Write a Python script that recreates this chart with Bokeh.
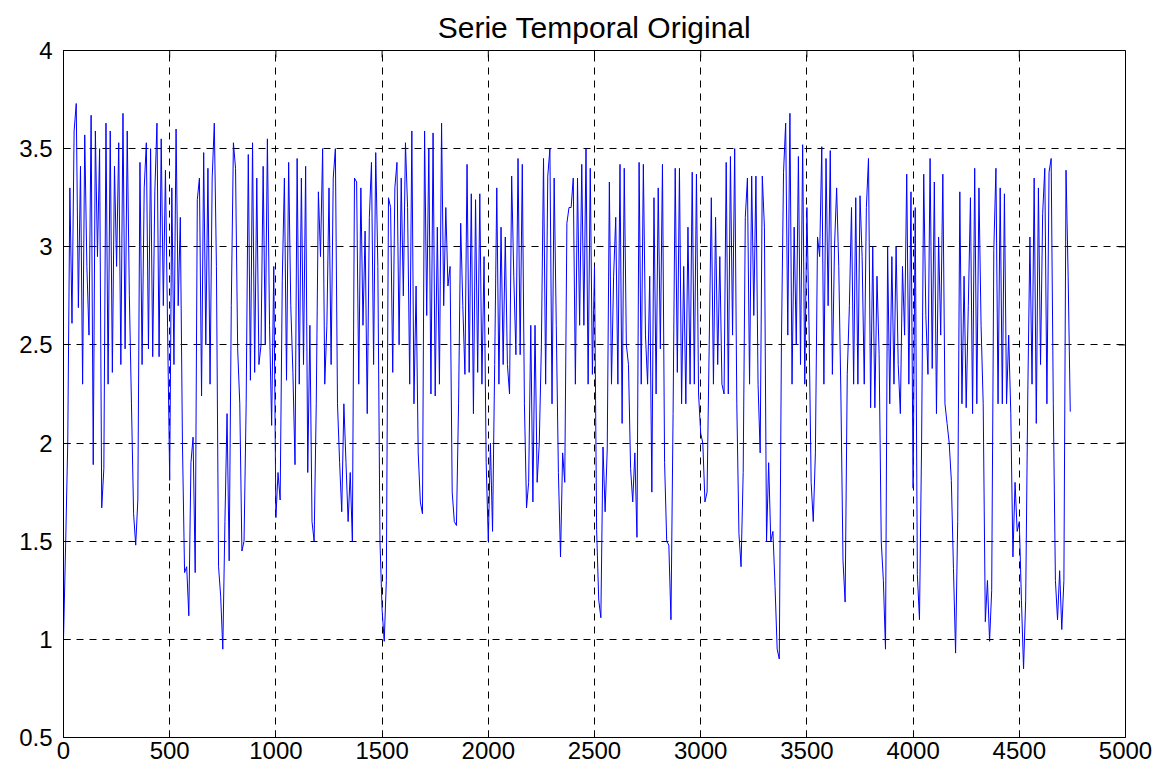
import numpy as np
from bokeh.plotting import figure
from bokeh.models import LinearAxis, FixedTicker, CustomJSTickFormatter, Range1d, Grid
from bokeh.embed import file_html
from bokeh.resources import INLINE

title_text = "Serie Temporal Original"
x_ticks = [0, 500, 1000, 1500, 2000, 2500, 3000, 3500, 4000, 4500, 5000]
y_ticks = [0.5, 1, 1.5, 2, 2.5, 3, 3.5, 4]
sample_step = 10  # time steps between the values

block_0000 = [1.0, 1.48, 2.0, 3.3, 2.61, 3.59, 3.73, 2.69, 3.41, 2.3, 3.57, 2.9, 2.55, 3.67, 1.89, 3.59, 2.95, 3.5, 1.67, 1.87,
              3.63, 2.3, 3.59, 2.36, 3.41, 2.9, 3.53, 2.4, 3.68, 2.48, 3.59, 2.75, 2.2, 1.64, 1.48, 1.71, 3.43, 2.4, 3.3, 3.53]
block_0400 = [2.48, 3.5, 2.44, 3.28, 3.63, 2.44, 3.55, 2.7, 3.39, 2.59, 1.81, 3.3, 2.4, 3.6, 2.7, 3.15, 2.0, 1.34, 1.37, 1.12,
              1.9, 2.03, 1.34, 3.24, 3.35, 2.24, 3.48, 2.5, 3.4, 2.3, 3.35, 3.63, 2.9, 1.37, 1.22, 0.95, 1.6, 2.15, 1.4, 2.7]
block_0800 = [3.53, 3.4, 2.48, 2.2, 1.45, 1.5, 2.2, 3.47, 2.32, 3.53, 2.36, 3.35, 2.4, 2.5, 3.41, 2.5, 3.55, 2.6, 2.09, 2.9,
              1.62, 1.85, 1.71, 2.83, 3.35, 2.32, 3.43, 2.7, 2.36, 1.89, 3.45, 2.3, 3.35, 2.4, 3.41, 1.85, 2.6, 1.6, 1.5, 2.2]
block_1200 = [3.28, 2.95, 3.5, 2.3, 2.6, 3.3, 2.4, 3.35, 3.5, 2.2, 1.9, 1.65, 2.2, 1.9, 1.6, 1.85, 1.5, 3.35, 3.33, 2.3,
              3.3, 2.6, 3.08, 2.15, 3.15, 3.43, 2.4, 3.48, 2.9, 1.5, 1.15, 0.99, 1.3, 3.25, 3.2, 2.36, 3.3, 3.43, 2.5, 3.35]
block_1600 = [2.75, 3.53, 3.2, 2.3, 3.59, 2.2, 2.8, 1.95, 1.7, 1.64, 3.59, 2.65, 3.5, 2.25, 3.58, 2.24, 3.1, 2.3, 3.63, 2.7,
              3.2, 2.8, 2.9, 1.75, 1.6, 1.58, 2.2, 3.12, 2.7, 2.35, 3.42, 2.36, 3.27, 2.15, 3.24, 2.36, 3.27, 2.3, 2.95, 1.9]
block_2000 = [1.5, 2.0, 1.55, 2.4, 3.3, 2.3, 3.1, 2.4, 3.05, 2.4, 2.25, 3.36, 2.85, 2.45, 3.45, 2.45, 3.42, 2.2, 1.67, 1.8,
              2.6, 1.7, 2.6, 1.8, 2.0, 2.5, 3.45, 2.3, 3.36, 3.5, 2.2, 3.35, 2.6, 1.85, 1.42, 1.95, 1.8, 3.12, 3.2, 3.2]
block_2400 = [3.35, 2.3, 3.35, 2.6, 3.42, 2.6, 3.5, 2.3, 3.4, 2.35, 2.9, 1.56, 1.2, 1.11, 1.98, 1.65, 1.97, 3.33, 2.3, 2.85,
              3.15, 2.3, 3.42, 2.1, 3.4, 2.5, 2.4, 1.87, 1.7, 1.95, 1.52, 3.43, 2.3, 3.42, 2.55, 2.3, 2.85, 1.75, 3.25, 2.25]
block_2800 = [3.3, 2.48, 3.42, 1.9, 1.5, 1.48, 1.1, 2.15, 3.4, 2.36, 3.4, 2.2, 2.9, 2.2, 3.1, 2.3, 3.38, 2.3, 3.37, 2.25,
              2.05, 2.0, 1.7, 1.75, 2.5, 3.25, 2.3, 3.15, 2.4, 2.95, 2.3, 2.25, 3.43, 2.25, 3.46, 2.55, 3.5, 2.2, 1.54, 1.37]
block_3200 = [1.85, 3.15, 3.35, 2.3, 3.36, 2.65, 3.36, 2.3, 1.95, 3.36, 3.1, 1.5, 1.9, 1.5, 1.55, 1.27, 0.95, 0.9, 2.5, 3.38,
              3.63, 2.55, 3.68, 2.3, 3.1, 2.5, 3.46, 2.4, 3.52, 2.3, 3.2, 2.6, 1.8, 1.6, 1.95, 3.05, 2.95]
block_3570 = [3.51, 2.3, 3.45, 2.7, 3.49, 2.35, 3.0, 3.3, 2.9, 2.25, 1.4, 1.19, 2.35, 2.7, 3.2, 2.3, 3.25, 2.3, 3.26, 2.95,
              2.3, 3.2, 3.45, 2.18, 3.0, 2.18, 2.85, 2.45, 1.5, 1.3, 0.95, 3.0, 2.2, 2.95, 2.3, 3.0, 2.4, 2.15, 2.9]
block_3960 = [2.55, 3.37, 2.3, 3.28, 1.77, 3.2, 1.33, 1.1, 2.0, 3.37, 2.65, 2.35, 3.45, 2.38, 3.33, 2.15, 3.05, 2.55, 3.37, 2.2,
              2.1, 2.0, 1.81, 1.36, 0.93, 1.6, 3.28, 2.2, 2.85, 2.18, 2.7, 3.25, 2.15, 3.4, 2.2, 3.3, 2.6, 2.2, 1.09, 1.3]
block_4360 = [0.99, 1.25, 2.98, 3.4, 2.2, 3.3, 2.2, 3.27, 2.2, 2.55, 2.15, 1.42, 1.8, 1.55, 1.6, 1.2, 0.85, 1.2, 2.25, 3.05,
              2.3, 3.35, 2.1, 3.3, 2.4, 3.17, 3.4, 2.2, 3.38, 3.45, 2.2, 1.3, 1.1, 1.35, 1.05, 1.3, 3.39, 2.85, 2.16]

series = (block_0000 + block_0400 + block_0800 + block_1200 + block_1600 + block_2000 +
          block_2400 + block_2800 + block_3200 + block_3570 + block_3960 + block_4360)
y = np.array(series)
x = np.arange(len(y)) * sample_step

FONT = "Liberation Sans"
X0, X1 = x_ticks[0], x_ticks[-1]
Y0, Y1 = y_ticks[0], y_ticks[-1]

p = figure(width=1158, height=767, output_backend="svg", toolbar_location=None,
           x_range=Range1d(X0, X1), y_range=Range1d(Y0, Y1),
           min_border_left=63, min_border_right=33, min_border_top=50, min_border_bottom=30,
           title=title_text, x_axis_type=None, y_axis_type=None)
p.background_fill_color = "white"
p.border_fill_color = "white"
p.outline_line_color = "black"
p.outline_line_width = 1
p.outline_line_alpha = 1

p.title.align = "center"
p.title.text_font = FONT
p.title.text_font_size = "30px"
p.title.text_font_style = "normal"
p.title.text_color = "black"
p.title.standoff = 14

fmt = CustomJSTickFormatter(code="return tick.toString();")

def style_axis(ax, standoff):
    ax.axis_line_color = "black"
    ax.major_tick_line_color = "black"
    ax.major_tick_in = 7
    ax.major_tick_out = 0
    ax.minor_tick_in = 0
    ax.minor_tick_out = 0
    ax.major_label_standoff = standoff
    ax.major_label_text_font = FONT
    ax.major_label_text_color = "black"
    ax.major_label_text_font_size = "24px"

xb = LinearAxis(ticker=FixedTicker(ticks=x_ticks), formatter=fmt)
yl = LinearAxis(ticker=FixedTicker(ticks=y_ticks), formatter=fmt)
style_axis(xb, 4)
style_axis(yl, 11)
p.add_layout(xb, "below")
p.add_layout(yl, "left")

# dashed grid
for dim, tks in ((0, x_ticks), (1, y_ticks)):
    g = Grid(dimension=dim, ticker=FixedTicker(ticks=tks))
    g.grid_line_color = "black"
    g.grid_line_dash = "7 6"
    g.grid_line_width = 1
    g.grid_line_alpha = 1
    p.add_layout(g)

# inward ticks on top and right edges of the box
p.ray(x=x_ticks, y=[Y1] * len(x_ticks), length=7, length_units="screen",
      angle=-np.pi / 2, line_color="black", line_width=1)
p.ray(x=[X1] * len(y_ticks), y=y_ticks, length=7, length_units="screen",
      angle=np.pi, line_color="black", line_width=1)

p.line(x, y, line_color="#0000ff", line_width=1)

open("out.html", "w").write(file_html(p, INLINE))
